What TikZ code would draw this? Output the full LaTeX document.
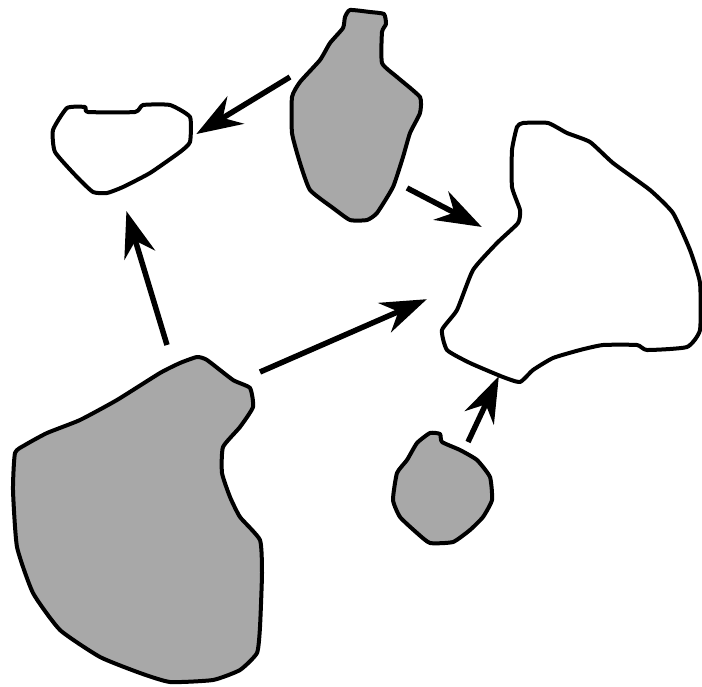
\documentclass[tikz,border=0pt]{standalone}
\usetikzlibrary{arrows.meta}
\definecolor{blobgray}{HTML}{A8A8A8}
\tikzset{
  blob/.style={draw=black, line width=4pt, line join=round},
  grayblob/.style={blob, fill=blobgray},
  whiteblob/.style={blob, fill=white},
  bigarrow/.style={line width=5.5pt, -{Stealth[length=46pt, width=32pt, inset=15pt]}, shorten >=-2pt}
}
\begin{document}
\begin{tikzpicture}[x=1pt,y=-1pt]
\useasboundingbox (0,0) rectangle (702,686);
% big gray blob (bottom left)
\draw[grayblob] plot[smooth cycle, tension=0.3] coordinates {
 (197,357) (207,360) (233,380) (250,388) (253,407) (240,427) (223,447)
 (222,473) (230,497) (240,517) (260,540) (262,573) (260,627) (257,653)
 (240,670) (213,680) (170,682) (140,673) (100,657) (60,630) (33,593)
 (17,547) (13,490) (15,453) (25,445) (47,433) (80,420) (117,400)
 (160,373) (180,363)};
% top gray blob
\draw[grayblob] plot[smooth cycle, tension=0.3] coordinates {
 (350,10) (370,12) (384,14) (386,24) (382,32) (382,63) (397,77) (420,97)
 (420,113) (410,133) (403,157) (393,187) (377,213) (367,220) (350,220)
 (333,208) (310,190) (300,163) (292,133) (292,97) (300,82) (320,60)
 (330,43) (343,28) (345,17)};
% small white blob (top left)
\draw[whiteblob] plot[smooth cycle, tension=0.3] coordinates {
 (67,108) (85,107) (88,112) (135,112) (143,105) (170,105) (190,117)
 (190,142) (180,152) (150,173) (123,187) (107,193) (93,192) (77,177)
 (55,152) (53,130)};
% large white blob (right)
\draw[whiteblob] plot[smooth cycle, tension=0.3] coordinates {
 (523,123) (548,123) (567,133) (590,142) (613,163) (650,190) (673,213)
 (690,250) (700,283) (700,330) (687,347) (647,350) (637,345) (603,345)
 (580,350) (553,358) (533,370) (520,382) (503,377) (470,363) (447,350)
 (442,330) (457,310) (473,270) (497,243) (518,223) (520,210) (512,187)
 (512,150) (517,127)};
% small gray blob
\draw[grayblob] plot[smooth cycle, tension=0.3] coordinates {
 (430,433) (440,434) (442,442) (460,450) (477,460) (490,477) (492,500)
 (483,517) (470,530) (453,542) (430,543) (417,533) (400,517) (393,500)
 (397,473) (407,460) (417,443)};
% arrow endpoints
\coordinate (a1s) at (290,77);  \coordinate (a1e) at (198,133);
\coordinate (a2s) at (407,188); \coordinate (a2e) at (480,226);
\coordinate (a3s) at (167,345); \coordinate (a3e) at (127,213);
\coordinate (a4s) at (260,372); \coordinate (a4e) at (425,300);
\coordinate (a5s) at (468,442); \coordinate (a5e) at (498,378);
\draw[bigarrow] (a1s) -- (a1e);
\draw[bigarrow] (a2s) -- (a2e);
\draw[bigarrow] (a3s) -- (a3e);
\draw[bigarrow] (a4s) -- (a4e);
\draw[bigarrow] (a5s) -- (a5e);
\end{tikzpicture}
\end{document}
